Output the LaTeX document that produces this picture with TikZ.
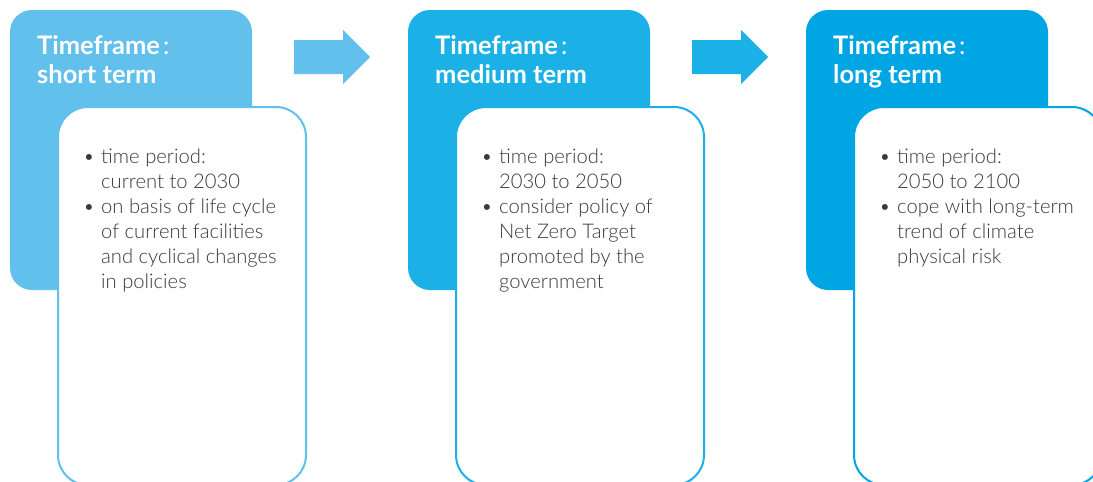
\documentclass[tikz,border=0pt]{standalone}
\usepackage{fontspec}
\setmainfont{Lato}
\newfontfamily\lightfont{Lato Light}
\definecolor{tabone}{HTML}{62C0EC}
\definecolor{tabtwo}{HTML}{1BB1E7}
\definecolor{tabthree}{HTML}{00A5E3}
\definecolor{bodygrey}{HTML}{3A3A3A}
\newcommand{\itemrows}[1]{\begin{tabular}[t]{@{}l@{}l@{}}#1\end{tabular}}
\newcommand{\bul}{\makebox[16pt][l]{\hspace*{-2pt}\mdseries\textbullet}}
\newcommand{\nobul}{\makebox[16pt][l]{}}
\begin{document}
\begin{tikzpicture}[x=1pt,y=-1pt,
  tab/.style={rounded corners=22pt, minimum width=242pt, minimum height=280pt, inner sep=0pt},
  sheet/.style={rounded corners=30pt, fill=white, line width=2pt, minimum width=248pt, minimum height=378pt, inner sep=0pt},
  heading/.style={anchor=base west, inner sep=0pt, text=white, font=\fontsize{25.5}{29.5}\selectfont\bfseries},
  body/.style={anchor=base west, inner sep=0pt, text=bodygrey, font=\lightfont\fontsize{20.2}{25}\selectfont}]
\useasboundingbox (0,0) rectangle (1093,482);
\fill[white] (0,0) rectangle (1093,482);

% short term
\node[tab, fill=tabone] (tab1) at (131,150) {};
\node[sheet, draw=tabone] (sheet1) at (182,296) {};
\node[heading] (head1) at (37,54) {\begin{tabular}[t]{@{}l@{}}Timeframe\hspace{3pt}{\mdseries:}\\short term\end{tabular}};
\node[body] (body1) at (85,163) {\itemrows{\bul & time period:\\ \nobul & current to 2030\\ \bul & on basis of life cycle\\ \nobul & of current facilities\\ \nobul & and cyclical changes\\ \nobul & in policies}};

% medium term
\node[tab, fill=tabtwo] (tab2) at (529,150) {};
\node[sheet, draw=tabtwo] (sheet2) at (580,296) {};
\node[heading] (head2) at (435,54) {\begin{tabular}[t]{@{}l@{}}Timeframe\hspace{3pt}{\mdseries:}\\medium term\end{tabular}};
\node[body] (body2) at (483,163) {\itemrows{\bul & time period:\\ \nobul & 2030 to 2050\\ \bul & consider policy of\\ \nobul & Net Zero Target\\ \nobul & promoted by the\\ \nobul & government}};

% long term
\node[tab, fill=tabthree] (tab3) at (927,150) {};
\node[sheet, draw=tabthree] (sheet3) at (978,296) {};
\node[heading] (head3) at (833,54) {\begin{tabular}[t]{@{}l@{}}Timeframe\hspace{3pt}{\mdseries:}\\long term\end{tabular}};
\node[body] (body3) at (881,163) {\itemrows{\bul & time period:\\ \nobul & 2050 to 2100\\ \bul & cope with long-term\\ \nobul & trend of climate\\ \nobul & physical risk}};

% block arrows between the stages
\fill[tabone] (294,40) -- (343,40) -- (343,30) -- (370,57) -- (343,84) -- (343,74) -- (294,74) -- cycle;
\fill[tabtwo] (692,40) -- (741,40) -- (741,30) -- (768,57) -- (741,84) -- (741,74) -- (692,74) -- cycle;
\end{tikzpicture}
\end{document}
